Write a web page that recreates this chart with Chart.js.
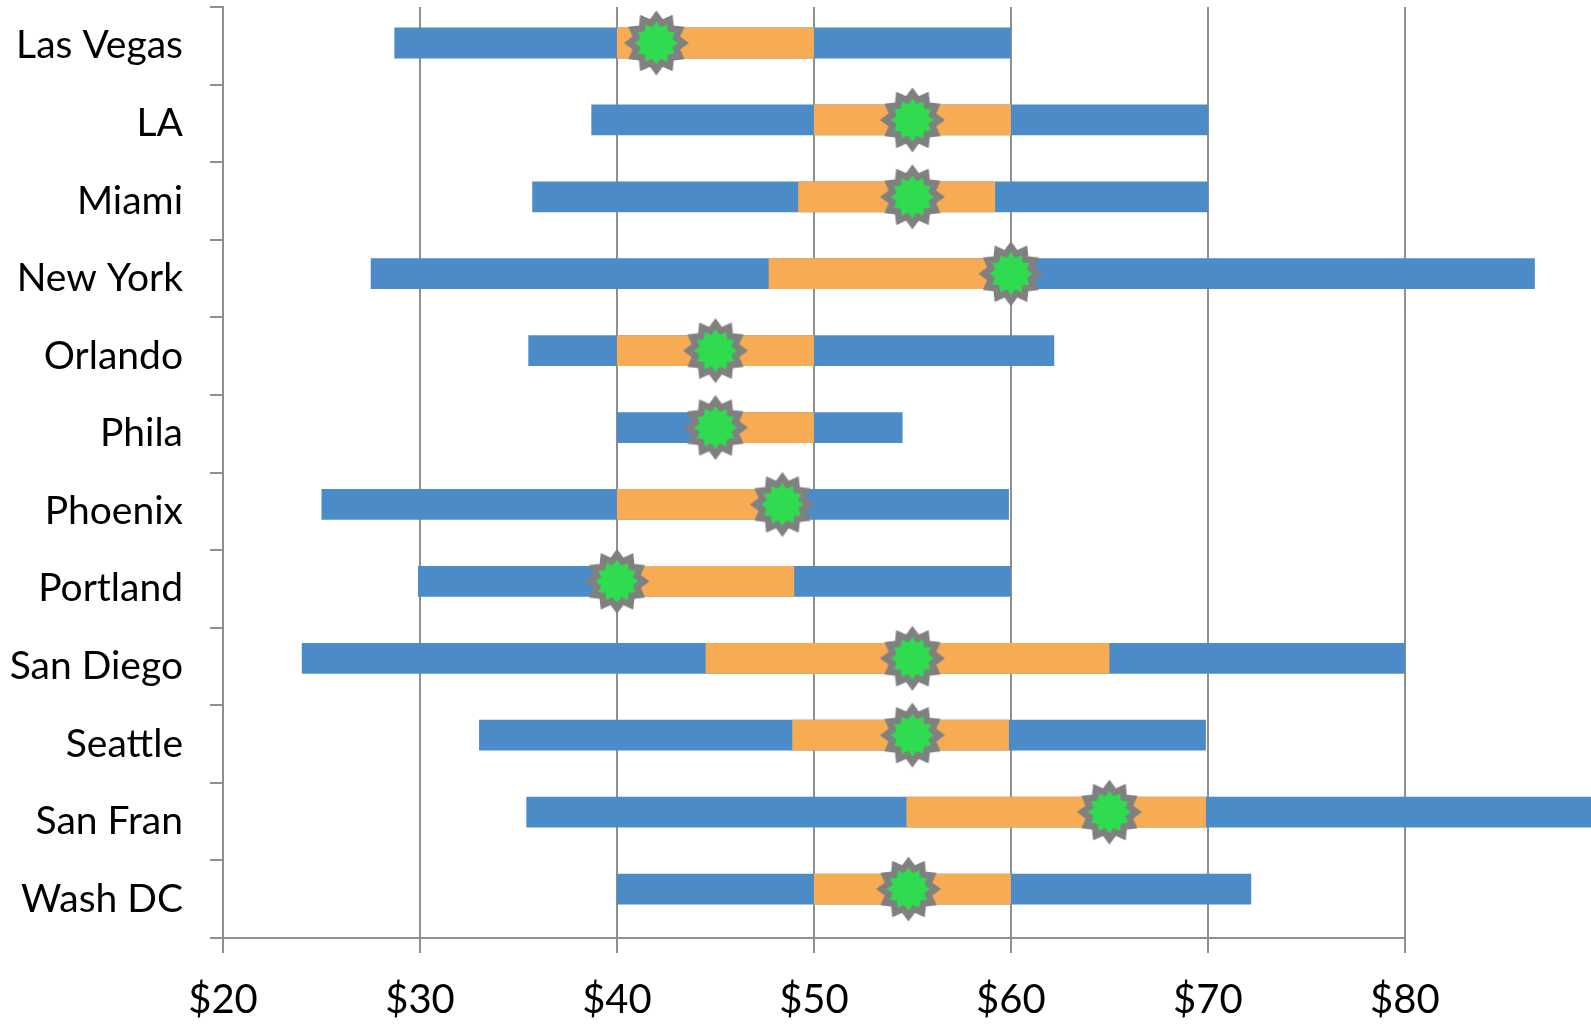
<!DOCTYPE html>
<html>
<head>
<meta charset="utf-8">
<script src="https://cdn.jsdelivr.net/npm/chart.js@4/dist/chart.umd.min.js"></script>
<style>
  html, body { margin: 0; padding: 0; background: #fff; overflow: hidden; }
  canvas { display: block; }
</style>
</head>
<body>
<canvas id="chart" width="1591" height="1024"></canvas>
<script>
// Hotel price spread per city: full range, middle band and median
const cities = ['Las Vegas', 'LA', 'Miami', 'New York', 'Orlando', 'Phila', 'Phoenix',
                'Portland', 'San Diego', 'Seattle', 'San Fran', 'Wash DC'];
const lowPrice    = [28.7, 38.7, 35.7, 27.5, 35.5, 40.0, 25.0, 29.9, 24.0, 33.0, 35.4, 40.0];
const q1Price     = [40.0, 50.0, 49.2, 47.7, 40.0, 45.0, 40.0, 40.0, 44.5, 48.9, 54.7, 50.0];
const medianPrice = [42.0, 55.0, 55.0, 60.0, 45.0, 45.0, 48.4, 40.0, 55.0, 55.0, 65.0, 54.8];
const q3Price     = [50.0, 60.0, 59.2, 60.0, 50.0, 50.0, 48.4, 49.0, 65.0, 59.9, 69.9, 60.0];
const highPrice   = [60.0, 70.0, 70.0, 86.6, 62.2, 54.5, 59.9, 60.0, 80.0, 69.9, 90.0, 72.2];
const priceTicks  = [20, 30, 40, 50, 60, 70, 80];

const GRID = '#8f8f8f';

// 12-point star marker: green body with a grey outline
function makeStar() {
  const size = 80;
  const c = document.createElement('canvas');
  c.width = size; c.height = size;
  const g = c.getContext('2d');
  const cx = size / 2, cy = size / 2, R = 27, r = 20.5, n = 12;
  g.beginPath();
  for (let i = 0; i < 2 * n; i++) {
    const a = -Math.PI / 2 + i * Math.PI / n;
    const rad = i % 2 === 0 ? R : r;
    const px = cx + rad * Math.cos(a), py = cy + rad * Math.sin(a);
    if (i === 0) g.moveTo(px, py); else g.lineTo(px, py);
  }
  g.closePath();
  g.fillStyle = '#2fdb4f';
  g.fill();
  g.lineJoin = 'miter';
  g.miterLimit = 10;
  g.lineWidth = 6.5;
  g.strokeStyle = '#808080';
  g.stroke();
  return c;
}

// Horizontal axis line, running from the first to the last labelled price
const xAxisLine = {
  id: 'xAxisLine',
  afterDraw(chart) {
    const x = chart.scales.x;
    const ctx = chart.ctx;
    const y = chart.chartArea.bottom;
    ctx.save();
    ctx.strokeStyle = GRID;
    ctx.lineWidth = 2;
    ctx.beginPath();
    ctx.moveTo(x.getPixelForValue(priceTicks[0]), y);
    ctx.lineTo(x.getPixelForValue(priceTicks[priceTicks.length - 1]), y);
    ctx.stroke();
    ctx.restore();
  }
};

function noPadding(s) {
  s.paddingLeft = 0; s.paddingRight = 0; s.paddingTop = 0; s.paddingBottom = 0;
}

function draw() {
  const star = makeStar();
  // marks sit on a hidden row axis (row index per city)
  const rows = (values) => values.map((v, i) => ({ x: v, y: i }));
  new Chart(document.getElementById('chart'), {
    type: 'bar',
    data: {
      labels: cities,
      datasets: [
        {
          type: 'line',
          label: 'Median',
          data: rows(medianPrice),
          yAxisID: 'rows',
          showLine: false,
          pointStyle: star,
          pointRadius: 28,
          order: 0
        },
        {
          label: 'Middle',
          data: rows(cities.map((_, i) => [q1Price[i], q3Price[i]])),
          yAxisID: 'rows',
          backgroundColor: '#f7ab52',
          grouped: false,
          barPercentage: 0.4,
          categoryPercentage: 1,
          order: 1
        },
        {
          label: 'Range',
          data: rows(cities.map((_, i) => [lowPrice[i], highPrice[i]])),
          yAxisID: 'rows',
          backgroundColor: '#4a8bc8',
          grouped: false,
          barPercentage: 0.4,
          categoryPercentage: 1,
          order: 2
        }
      ]
    },
    options: {
      indexAxis: 'y',
      responsive: false,
      animation: false,
      devicePixelRatio: 1,
      layout: { autoPadding: false, padding: { top: 7, right: 0, left: 0, bottom: 0 } },
      plugins: { legend: { display: false }, tooltip: { enabled: false } },
      scales: {
        x: {
          type: 'linear',
          min: 20,
          max: 89.45,
          afterBuildTicks: (s) => { s.ticks = priceTicks.map(v => ({ value: v })); },
          afterFit: (s) => { s.height = 86; noPadding(s); },
          ticks: {
            callback: (v) => '$' + v,
            font: { family: 'Lato', size: 40 },
            color: '#000',
            padding: 23,
            maxRotation: 0,
            autoSkip: false
          },
          grid: { color: GRID, lineWidth: 2, tickLength: 15, drawTicks: true },
          border: { display: false }
        },
        y: {
          type: 'category',
          afterFit: (s) => { s.width = 223; noPadding(s); },
          ticks: {
            font: { family: 'Lato', size: 39 },
            color: '#000',
            padding: 27,
            autoSkip: false
          },
          grid: { offset: true, drawOnChartArea: false, color: GRID, lineWidth: 2, tickLength: 13 },
          border: { display: true, color: GRID, width: 2 }
        },
        rows: {
          type: 'linear',
          axis: 'y',
          display: false,
          reverse: true,
          offset: false,
          grace: 0,
          min: -0.468,
          max: 11.637,
          afterBuildTicks: (s) => { s.ticks = cities.map((_, i) => ({ value: i })); }
        }
      }
    },
    plugins: [xAxisLine]
  });
}

if (document.fonts && document.fonts.load) {
  Promise.all([document.fonts.load('40px Lato'), document.fonts.load('39px Lato')])
    .then(draw, draw);
} else {
  draw();
}
</script>
</body>
</html>
